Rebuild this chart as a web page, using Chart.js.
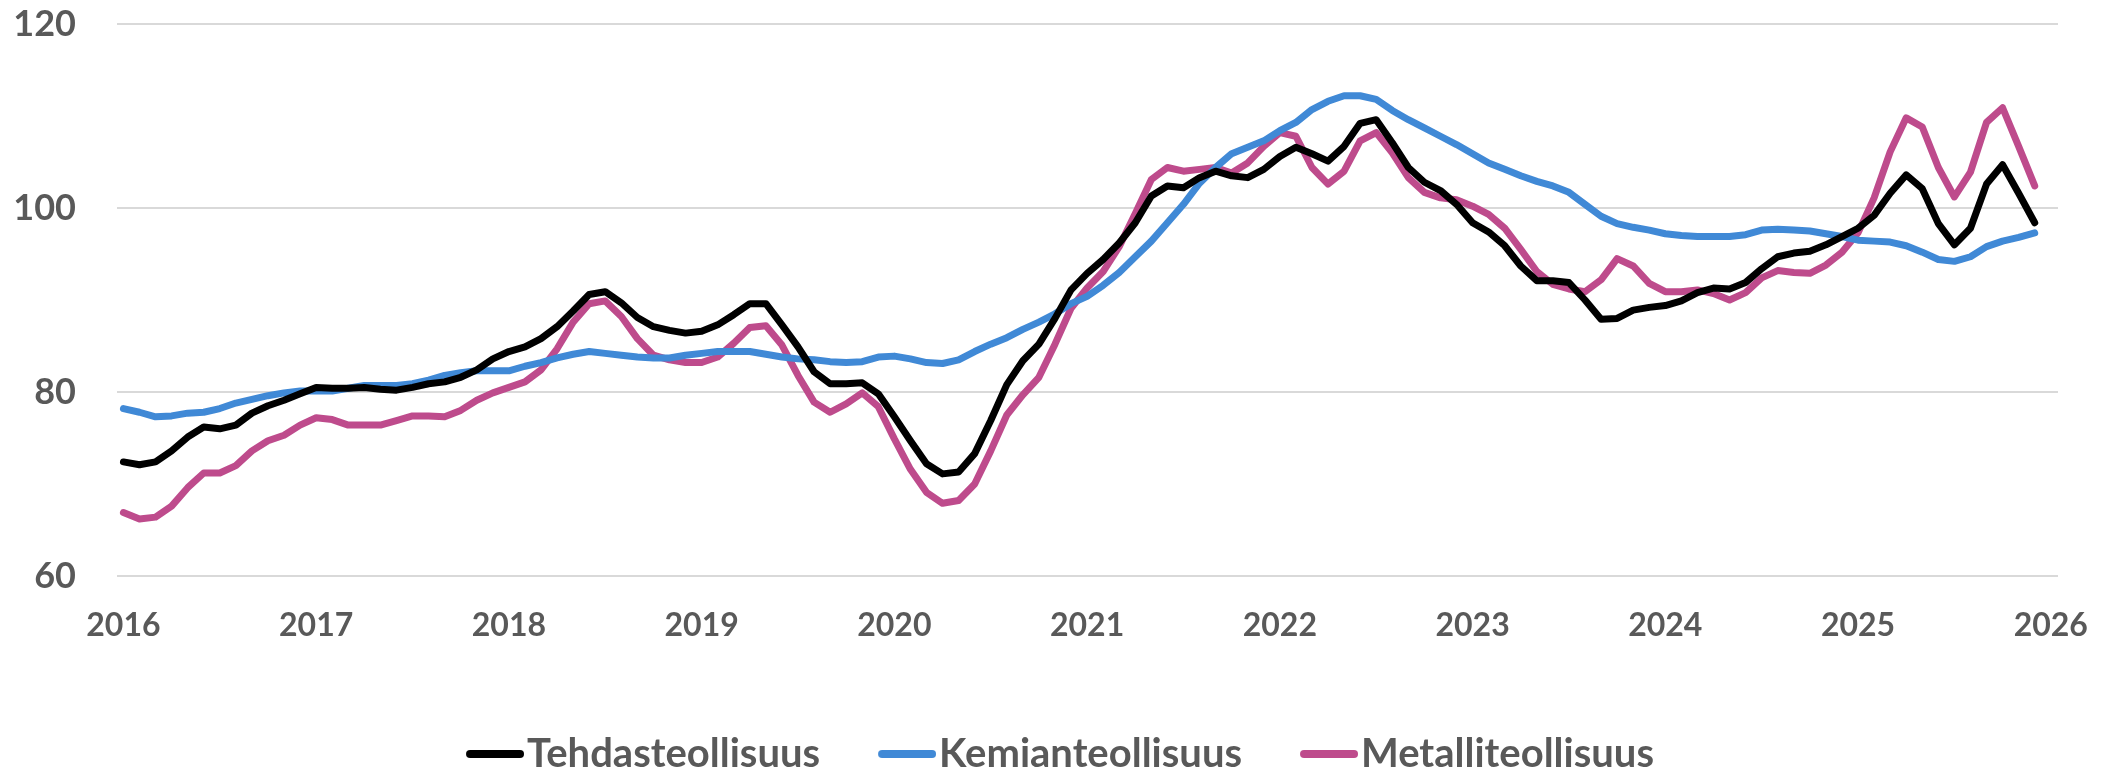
<!DOCTYPE html>
<html>
<head>
<meta charset="utf-8">
<script src="https://cdn.jsdelivr.net/npm/chart.js@4.4.1/dist/chart.umd.min.js"></script>
<style>
html,body{margin:0;padding:0;background:#ffffff;}
#wrap{width:2109px;height:771px;position:relative;}
</style>
</head>
<body>
<div id="wrap"><canvas id="c"></canvas></div>
<script>
// Tick labels on the x axis (one per January) and their month index
const yearLabels = ['2016','2017','2018','2019','2020','2021','2022','2023','2024','2025','2026'];
const yearTickMonths = [0,12,24,36,48,60,72,84,96,108,120];
const yTicks = [60,80,100,120];

const seriesNames = ['Tehdasteollisuus','Kemianteollisuus','Metalliteollisuus'];
const seriesColors = ['#000000','#4089D6','#BE4B8C'];

// Monthly values, Jan 2016 ... Dec 2025
const tehdasteollisuus = [
  72.4,72.1,72.4,73.6,75.1,76.2,76.0,76.4,77.7,78.5,79.1,79.8,
  80.5,80.4,80.4,80.5,80.3,80.2,80.5,80.9,81.1,81.6,82.4,83.6,
  84.4,84.9,85.8,87.1,88.8,90.6,90.9,89.7,88.1,87.1,86.7,86.4,
  86.6,87.3,88.4,89.6,89.6,87.3,84.9,82.2,80.9,80.9,81.0,79.8,
  77.3,74.7,72.2,71.1,71.3,73.3,76.9,80.8,83.4,85.2,88.0,91.1,
  92.9,94.4,96.2,98.4,101.3,102.4,102.2,103.3,104.0,103.5,103.3,104.2,
  105.6,106.6,105.9,105.1,106.7,109.2,109.6,107.1,104.4,102.8,101.9,100.4,
  98.4,97.4,95.9,93.7,92.1,92.1,91.9,90.0,87.9,88.0,88.9,89.2,
  89.4,89.9,90.8,91.3,91.2,91.9,93.4,94.7,95.1,95.3,96.0,96.9,
  97.8,99.2,101.6,103.6,102.1,98.3,96.0,97.8,102.6,104.7,101.6,98.4
];
const kemianteollisuus = [
  78.2,77.8,77.3,77.4,77.7,77.8,78.2,78.8,79.2,79.6,79.9,80.1,
  80.1,80.1,80.4,80.7,80.7,80.7,80.9,81.3,81.8,82.1,82.3,82.3,
  82.3,82.8,83.2,83.7,84.1,84.4,84.2,84.0,83.8,83.7,83.7,84.0,
  84.2,84.4,84.4,84.4,84.1,83.8,83.6,83.5,83.3,83.2,83.3,83.8,
  83.9,83.6,83.2,83.1,83.5,84.4,85.2,85.9,86.8,87.6,88.5,89.6,
  90.4,91.6,93.0,94.7,96.4,98.4,100.4,102.7,104.4,105.9,106.6,107.3,
  108.4,109.3,110.7,111.6,112.2,112.2,111.8,110.6,109.6,108.7,107.8,106.9,
  105.9,104.9,104.2,103.5,102.9,102.4,101.7,100.4,99.1,98.3,97.9,97.6,
  97.2,97.0,96.9,96.9,96.9,97.1,97.6,97.7,97.6,97.5,97.2,96.9,
  96.5,96.4,96.3,95.9,95.2,94.4,94.2,94.7,95.8,96.4,96.8,97.3
];
const metalliteollisuus = [
  66.9,66.2,66.4,67.6,69.6,71.2,71.2,72.0,73.6,74.7,75.3,76.4,
  77.2,77.0,76.4,76.4,76.4,76.9,77.4,77.4,77.3,78.0,79.1,79.9,
  80.5,81.1,82.4,84.7,87.6,89.6,89.9,88.2,85.8,84.0,83.5,83.2,
  83.2,83.8,85.3,87.0,87.2,85.1,81.8,78.9,77.8,78.7,79.9,78.4,
  74.9,71.6,69.1,67.9,68.2,70.0,73.6,77.5,79.7,81.6,85.2,89.1,
  91.3,93.1,95.8,99.4,103.1,104.4,104.0,104.2,104.4,103.8,104.9,106.7,
  108.2,107.8,104.4,102.6,104.0,107.3,108.2,106.0,103.3,101.7,101.1,100.9,
  100.2,99.3,97.8,95.5,93.1,91.7,91.2,90.9,92.2,94.5,93.7,91.8,
  90.9,90.9,91.1,90.7,90.0,90.8,92.4,93.2,93.0,92.9,93.8,95.2,
  97.3,101.1,106.1,109.8,108.8,104.4,101.2,103.9,109.3,110.9,106.7,102.4
];

const seriesValues = [tehdasteollisuus, kemianteollisuus, metalliteollisuus];

// legend sample: a short rounded line, placed just left of the label text
function swatch(color){
  const cv = document.createElement('canvas');
  cv.width = 86; cv.height = 12;
  const g = cv.getContext('2d');
  g.strokeStyle = color; g.lineWidth = 8; g.lineCap = 'round';
  g.beginPath(); g.moveTo(32,6); g.lineTo(82,6); g.stroke();
  return cv;
}

const TEXT = '#595959';
const FONT = 'Lato';

const datasets = seriesNames.map((name, k) => ({
  label: name,
  data: seriesValues[k].map((v, i) => ({x: i, y: v})),
  borderColor: seriesColors[k],
  backgroundColor: seriesColors[k],
  borderWidth: 7,
  borderCapStyle: 'round',
  borderJoinStyle: 'round',
  pointRadius: 0,
  pointHoverRadius: 0,
  pointStyle: swatch(seriesColors[k]),
  tension: 0,
  fill: false
}));

new Chart(document.getElementById('c'), {
  type: 'line',
  data: { datasets },
  options: {
    responsive: true,
    maintainAspectRatio: false,
    animation: false,
    events: [],
    layout: { padding: { top: 24, left: 0, right: 0, bottom: 0 } },
    scales: {
      x: {
        type: 'linear',
        min: -0.4,
        max: 120.45,
        afterBuildTicks: (s) => { s.ticks = yearTickMonths.map(v => ({value: v})); },
        afterFit: (s) => { s.height = 111; s.paddingRight = 51; },
        grid: { display: false, drawTicks: false },
        border: { display: false },
        ticks: {
          autoSkip: false, maxRotation: 0, padding: 30,
          color: TEXT, font: { family: FONT, weight: 'bold', size: 32 },
          callback: (v) => yearLabels[yearTickMonths.indexOf(v)]
        }
      },
      y: {
        min: 60, max: 120,
        afterBuildTicks: (s) => { s.ticks = yTicks.map(v => ({value: v})); },
        afterFit: (s) => { s.width = 117; s.paddingTop = 0; s.paddingBottom = 0; },
        grid: { color: '#D9D9D9', lineWidth: 2, drawTicks: false },
        border: { display: false },
        ticks: {
          padding: 41,
          color: TEXT, font: { family: FONT, weight: 'bold', size: 36 }
        }
      }
    },
    plugins: {
      tooltip: { enabled: false },
      legend: {
        position: 'bottom',
        maxHeight: 84,
        labels: {
          usePointStyle: true,
          pointStyleWidth: 52,
          padding: 47,
          color: TEXT,
          font: { family: FONT, weight: 'bold', size: 40 }
        }
      }
    }
  }
});
</script>
</body>
</html>
